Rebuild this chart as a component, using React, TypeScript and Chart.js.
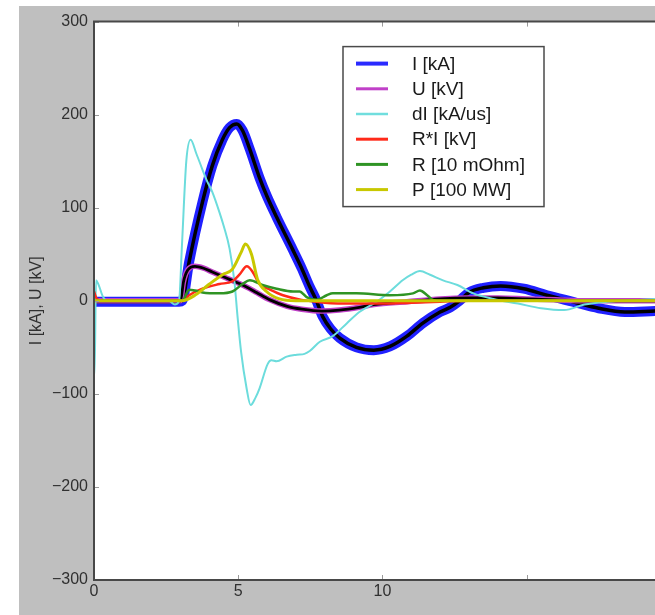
import { useEffect, useRef } from 'react';
import { Chart, registerables } from 'chart.js';

Chart.register(...registerables);

// ---- measured waveforms (time in microseconds) ----
const iTime = [0, 1, 2, 2.95, 3.06, 3.3, 3.76, 4.1, 4.45, 4.7, 4.95, 5.15, 5.4, 5.74, 6.0, 6.33, 6.89, 7.2, 7.48, 7.7, 7.93, 8.2, 8.52, 9.1, 9.7, 10.26, 10.85, 11.4, 12.0, 12.35, 12.67, 13.0, 13.5, 14.1, 14.9, 15.7, 16.6, 17.5, 18.4, 19.45];
const iKA = [-1, -1, -1, -1, 0, 42, 106, 145, 173, 186, 190, 183, 163, 132, 112, 90, 55, 35, 15, 1, -17, -30, -40, -50, -53, -49, -38, -24, -12, -7, 0, 9, 14, 16, 13, 6, -1, -8, -12, -11];

const uTime = [0, 3.0, 3.1, 3.25, 3.5, 3.8, 4.1, 4.7, 5.15, 5.4, 5.63, 6.1, 6.7, 7.2, 7.9, 8.5, 9.2, 9.7, 10.85, 12, 13, 14, 15, 16, 17, 19.45];
const uKV = [0, 0, 20, 33, 37, 35, 31, 23, 17, 13, 9, 1, -6, -9, -11, -10, -7, -4, -1, 2, 3, 3, 2, 1, 0, 0];

const dITime = [0, 0.02, 0.07, 0.15, 0.3, 0.45, 2.6, 2.8, 2.95, 3.05, 3.2, 3.35, 3.55, 3.76, 3.9, 4.1, 4.35, 4.5, 4.7, 4.87, 4.98, 5.1, 5.29, 5.43, 5.6, 5.74, 6.02, 6.15, 6.33, 6.68, 7.03, 7.3, 7.48, 7.83, 8.28, 8.77, 9.2, 9.8, 10.26, 10.7, 11.0, 11.3, 11.65, 12.1, 12.6, 13.15, 13.85, 14.7, 15.5, 16.3, 17, 17.8, 19, 19.45];
const dIKAus = [-80, -80, 22, 18, 5, 0, 0, -4, 0, 60, 150, 173, 158, 141, 130, 117, 95, 80, 56, 20, -18, -55, -94, -112, -104, -94, -68, -64, -65, -60, -58, -57, -54, -44, -38, -24, -12, -1, 10, 22, 28, 32, 28, 22, 17, 8, 2, -3, -8, -10, -4, -1, 1, 2];

const riTime = [0, 0.1, 0.3, 3.06, 3.3, 3.76, 4.35, 4.8, 5.04, 5.3, 5.5, 5.74, 6.1, 6.55, 7.2, 8, 9, 10, 11, 12, 13, 19.45];
const riKV = [10, 2, 0, 0, 6, 13, 18, 21, 28, 37, 31, 18, 12, 6, 1, -2, -3, -3, -2, -1, 0, 0];

const rTime = [0, 3.06, 3.3, 3.5, 3.76, 4.35, 4.8, 5.15, 5.4, 5.84, 6.33, 6.9, 7.13, 7.37, 7.72, 8.07, 8.28, 9.1, 10.26, 11.06, 11.3, 11.55, 11.75, 12, 19.45];
const r10mOhm = [0, 0, 12, 11, 9, 8, 10, 18, 22, 17, 13, 10, 10, 4, 1, 6, 8, 8, 6, 8, 11, 6, 1, 0, 0];

const pTime = [0, 3.06, 3.55, 4.0, 4.45, 4.8, 5.1, 5.25, 5.46, 5.67, 5.98, 6.43, 7, 19.45];
const p100MW = [0, 0, 7, 18, 28, 34, 52, 61, 50, 23, 10, 2, 0, 0];

// ---- axes ----
const xTickValues = [0, 5, 10, 15];
const xTickLabels = ['0', '5', '10', ''];
const yTickValues = [-300, -200, -100, 0, 100, 200, 300];
const yTickLabels = ['\u2212300', '\u2212200', '\u2212100', '0', '100', '200', '300'];
const yTitle = 'I [kA], U [kV]';

const FONT = "'Liberation Sans', Arial, Helvetica, sans-serif";

const toPoints = (xs: number[], ys: number[]) => xs.map((x, i) => ({ x, y: ys[i] }));

type LegendEntry = { label: string; color: string; width: number };

const legendEntries: LegendEntry[] = [
  { label: 'I [kA]', color: '#2a2aff', width: 4 },
  { label: 'U [kV]', color: '#c040c8', width: 3 },
  { label: 'dI [kA/us]', color: '#70dede', width: 2.5 },
  { label: 'R*I [kV]', color: '#ff2a1a', width: 3 },
  { label: 'R [10 mOhm]', color: '#2f9424', width: 3 },
  { label: 'P [100 MW]', color: '#c8c800', width: 3 },
];

const framePlugin = {
  id: 'frameAndLegend',
  beforeDraw(chart: any) {
    const { ctx, chartArea: a } = chart;
    ctx.save();
    ctx.fillStyle = '#ffffff';
    ctx.fillRect(a.left, a.top, a.right - a.left, a.bottom - a.top);
    ctx.restore();
  },
  afterDraw(chart: any) {
    const { ctx, chartArea: a, scales } = chart;
    ctx.save();

    // inward tick marks
    ctx.strokeStyle = '#9a9a9a';
    ctx.lineWidth = 1;
    ctx.beginPath();
    yTickValues.forEach((v) => {
      const y = Math.round(scales.y.getPixelForValue(v)) + 0.5;
      ctx.moveTo(a.left, y);
      ctx.lineTo(a.left + 5, y);
    });
    xTickValues.forEach((v) => {
      const x = Math.round(scales.x.getPixelForValue(v)) + 0.5;
      ctx.moveTo(x, a.bottom);
      ctx.lineTo(x, a.bottom - 5);
      ctx.moveTo(x, a.top);
      ctx.lineTo(x, a.top + 5);
    });
    ctx.stroke();

    // axes frame
    ctx.strokeStyle = '#484848';
    ctx.lineWidth = 2;
    ctx.beginPath();
    ctx.moveTo(a.right + 2, a.top);
    ctx.lineTo(a.left, a.top);
    ctx.lineTo(a.left, a.bottom);
    ctx.lineTo(a.right + 2, a.bottom);
    ctx.stroke();

    // legend box
    const bx = a.left + 249;
    const by = a.top + 25;
    const bw = 201;
    const bh = 160;
    ctx.fillStyle = '#ffffff';
    ctx.fillRect(bx, by, bw, bh);
    ctx.strokeStyle = '#4a4a4a';
    ctx.lineWidth = 1.5;
    ctx.strokeRect(bx, by, bw, bh);

    ctx.font = `19px ${FONT}`;
    ctx.textBaseline = 'middle';
    ctx.textAlign = 'left';
    legendEntries.forEach((e, i) => {
      const cy = by + 17 + i * 25.2;
      ctx.strokeStyle = e.color;
      ctx.lineWidth = e.width;
      ctx.beginPath();
      ctx.moveTo(bx + 13, cy);
      ctx.lineTo(bx + 45, cy);
      ctx.stroke();
      ctx.fillStyle = '#1a1a1a';
      ctx.fillText(e.label, bx + 69, cy + 1);
    });

    ctx.restore();
  },
};

export default function App() {
  const ref = useRef<HTMLCanvasElement | null>(null);

  useEffect(() => {
    if (!ref.current) return;
    const line = (data: { x: number; y: number }[], color: string, width: number, order: number, label = '') => ({
      type: 'line' as const,
      label,
      data,
      borderColor: color,
      borderWidth: width,
      pointRadius: 0,
      fill: false,
      cubicInterpolationMode: 'monotone' as const,
      borderCapStyle: 'round' as const,
      borderJoinStyle: 'round' as const,
      order,
    });

    const chart = new Chart(ref.current, {
      type: 'line',
      data: {
        datasets: [
          line(toPoints(iTime, iKA), '#2020ff', 10, 10, legendEntries[0].label),
          line(toPoints(iTime, iKA), '#000000', 3.5, 9),
          line(toPoints(uTime, uKV), '#c040c8', 5.5, 8, legendEntries[1].label),
          line(toPoints(uTime, uKV), '#000000', 2.8, 7),
          line(toPoints(dITime, dIKAus), '#6cdcdc', 2, 6, legendEntries[2].label),
          line(toPoints(riTime, riKV), '#ff2a1a', 2.5, 5, legendEntries[3].label),
          line(toPoints(rTime, r10mOhm), '#2f9424', 2.5, 4, legendEntries[4].label),
          line(toPoints(pTime, p100MW), '#c8c800', 3, 3, legendEntries[5].label),
        ],
      },
      options: {
        responsive: false,
        animation: false,
        events: [],
        layout: { padding: { top: 12, left: 0, right: 0, bottom: 0 } },
        plugins: { legend: { display: false }, tooltip: { enabled: false } },
        scales: {
          x: {
            type: 'linear',
            min: 0,
            max: 19.45,
            afterBuildTicks: (s: any) => {
              s.ticks = xTickValues.map((value) => ({ value }));
            },
            afterFit: (s: any) => {
              s.height = 35;
            },
            grid: { display: false, drawTicks: false },
            border: { display: false },
            ticks: {
              autoSkip: false,
              maxRotation: 0,
              padding: 2,
              color: '#303030',
              font: { family: FONT, size: 16 },
              callback: (v: any) => xTickLabels[xTickValues.indexOf(Number(v))] ?? '',
            },
          },
          y: {
            type: 'linear',
            min: -300,
            max: 300,
            afterBuildTicks: (s: any) => {
              s.ticks = yTickValues.map((value) => ({ value }));
            },
            afterFit: (s: any) => {
              s.width = 75;
            },
            grid: { display: false, drawTicks: false },
            border: { display: false },
            title: {
              display: true,
              text: yTitle,
              color: '#303030',
              font: { family: FONT, size: 16 },
              padding: { top: 8, bottom: 0 },
            },
            ticks: {
              autoSkip: false,
              padding: 6,
              color: '#303030',
              font: { family: FONT, size: 16 },
              callback: (v: any) => yTickLabels[yTickValues.indexOf(Number(v))] ?? '',
            },
          },
        },
      },
      plugins: [framePlugin],
    } as any);

    return () => chart.destroy();
  }, []);

  return (
    <div style={{ position: 'absolute', left: 0, top: 0, width: 655, height: 615, background: '#ffffff', overflow: 'hidden' }}>
      <div style={{ position: 'absolute', left: 19, top: 6, width: 636, height: 609, background: '#bfbfbf' }}>
        <canvas ref={ref} width={636} height={609} style={{ display: 'block', width: 636, height: 609 }} />
      </div>
    </div>
  );
}
